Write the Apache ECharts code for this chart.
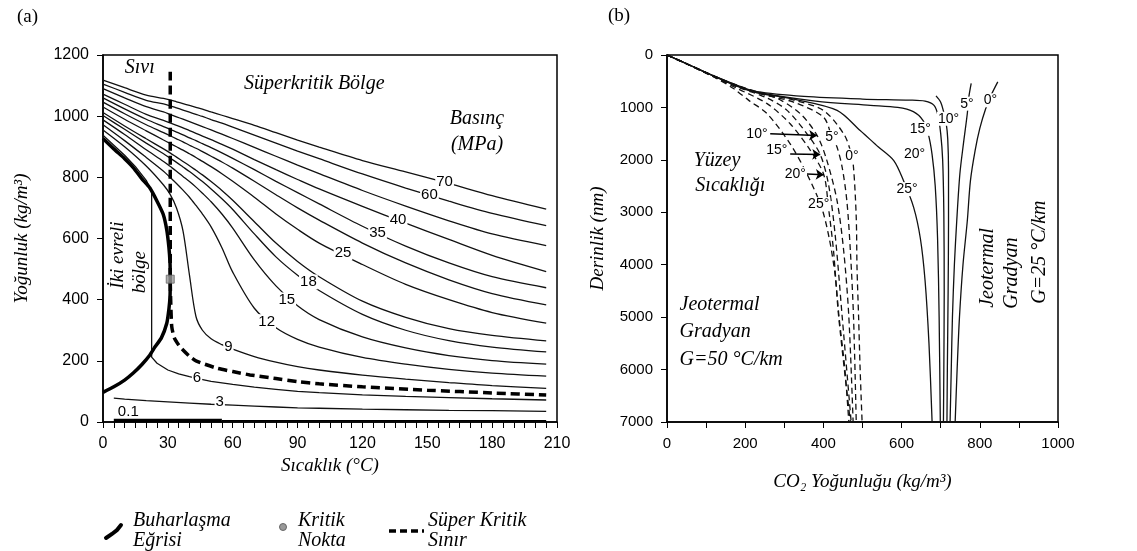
<!DOCTYPE html>
<html><head><meta charset="utf-8">
<script src="https://cdn.jsdelivr.net/npm/echarts/dist/echarts.min.js"></script>
<style>html,body{margin:0;padding:0;background:#fff}#c{width:1137px;height:551px}</style>
</head><body><div id="c"></div>
<script>
// ---------- Panel (a): CO2 density vs temperature, isobars (MPa) ----------
const TEMPS = [0,10,20,28,31,34,37,40,43,46,50,55,60,70,80,90,100,120,140,160,180,205];
const P9  = [955,900,837,775,745,700,625,480,345,300,272,253,238,214,196,181,170,153,140,129,119,110];
const P12 = [972,920,865,820,800,780,758,735,708,680,638,570,490,372,308,270,245,211,189,172,160,150];
const P15 = [988,940,890,852,836,820,803,786,768,748,720,680,634,530,445,380,335,278,242,217,201,189];
const P18 = [1002,957,912,877,863,849,834,819,803,786,762,730,695,615,540,480,430,352,300,266,245,229];
const P20 = [1012,968,926,893,880,866,852,838,823,808,786,757,725,655,585,525,475,395,342,305,283,265];
const P25 = [1030,990,952,922,911,900,889,877,865,852,835,812,787,735,680,630,585,515,450,400,358,323];
const P30 = [1046,1008,972,946,936,926,916,905,895,884,869,850,830,787,743,700,660,585,520,465,420,383];
const P35 = [1060,1024,990,966,957,948,939,929,920,910,897,880,862,825,787,750,713,640,575,520,475,439];
const P40 = [1072,1039,1006,986,978,970,962,953,944,935,923,908,892,858,825,793,762,705,650,597,545,492];
const P50 = [1090,1060,1031,1014,1006,998,990,982,974,966,955,941,927,898,869,840,812,757,706,658,615,577];
const P60 = [1105,1078,1052,1040,1034,1027,1020,1013,1006,999,989,977,964,938,912,886,861,811,765,722,682,642];
const P70 = [1118,1093,1069,1058,1053,1047,1041,1035,1029,1023,1014,1003,992,970,946,922,899,855,818,780,740,696];
const P6  = [[0,938],[5,905],[10,872],[15,835],[20,790],[22.5,755],[22.5,212],[25,192],[30,170],[35,157],[40,148],[45,140],[50,133],[60,123],[70,114],[80,107],[90,100],[100,96],[120,89],[140,84],[160,80],[180,76],[205,72]];
const P3  = [[5,78],[10,75],[20,70],[30,66],[40,62],[50,58],[60,55],[70,52],[80,49],[90,46],[100,45],[120,42],[140,40],[160,38],[180,37],[205,35]];
const P01_THICK = [[5,5],[55,5]];
const P01_THIN  = [[55,4],[205,4]];
const SAT_CURVE = [[0,927],[5,893],[10,861],[14,832],[18,795],[21.7,765],[25,722],[27.8,680],[29.5,628],[30.5,570],[31,520],[31.1,467],[31,410],[30.5,370],[29.5,323],[27,275],[24,245],[21.7,219],[18,188],[14,160],[10,137],[5,115],[0,97]];
const SC_BOUNDARY = [[31.1,1145],[31.1,467],[31.3,400],[31.8,312],[33,275],[35.6,246],[40,215],[43,200],[52.6,176],[60,165],[68,154],[80,142],[90,132],[100,125],[120,115],[150,104],[180,95],[205,88]];
const CRITICAL = [[31.1,467]];
const ISO_LABELS = [[158,786,'70'],[151,742,'60'],[136.5,660,'40'],[127,618,'35'],[111,553,'25'],[95,458,'18'],[85,399,'15'],[75.7,328,'12'],[58,245,'9'],[43.5,144,'6'],[54,66,'3']];
const ISO_LABEL_01 = [[11.7,34,'0.1']];
const A_TEXTS = [[17,1158,'Sıvı'],[173,990,'Basınç'],[173,905,'(MPa)']];
const A_TEXT_LEFT = [[65,1106,'Süperkritik Bölge']];
const A_ROT = [[7,546,'İki evreli'],[17,490,'bölge']];

// ---------- Panel (b): CO2 density vs depth ----------
const G25_0  = [[846,512],[830,750],[815,1024],[800,1400],[788,1823],[776,2400],[768,3167],[757,4000],[748,5000],[742,6000],[737,7000]];
const G25_5  = [[778,540],[772,800],[768,1120],[758,1700],[749,2271],[741,3167],[735,4000],[730,5000],[727,6000],[724,7000]];
const G25_10 = [[688,780],[700,900],[708,1100],[714,1300],[718,1600],[720,2200],[720,3200],[719,4500],[717,6000],[716,7000]];
const G25_15 = [[0,0],[60,200],[120,400],[180,580],[230,700],[350,790],[500,840],[620,860],[660,880],[683,960],[693,1150],[700,1500],[705,2000],[708,3000],[709,4500],[708,6000],[707,7000]];
const G25_20 = [[0,0],[60,200],[120,400],[180,590],[230,710],[380,880],[520,960],[590,1000],[630,1080],[655,1250],[668,1500],[678,1900],[686,2500],[692,3500],[696,5000],[699,7000]];
const G25_25 = [[0,0],[60,200],[120,405],[180,600],[230,720],[330,850],[435,1056],[494,1440],[540,1750],[580,2015],[605,2400],[631,2911],[648,3500],[660,4300],[670,5500],[678,7000]];
const G50_0  = [[0,0],[60,200],[120,400],[180,580],[250,740],[324,860],[400,1056],[452,1504],[470,1850],[477,2143],[484,3100],[486,4063],[490,4987],[494,6006],[499,7000]];
const G50_5  = [[0,0],[60,200],[120,400],[180,590],[250,760],[324,900],[400,1184],[422,1568],[435,1760],[448,2143],[460,2783],[469,3743],[477,4987],[484,7000]];
const G50_10 = [[0,0],[60,200],[120,410],[180,600],[250,760],[281,820],[341,1120],[384,1536],[409,2015],[435,2783],[452,3743],[465,4987],[476,7000]];
const G50_15 = [[0,0],[60,200],[120,410],[180,610],[256,820],[307,1056],[358,1504],[392,1900],[413,2463],[430,3423],[448,4987],[471,7000]];
const G50_20 = [[0,0],[60,205],[120,420],[180,640],[256,928],[315,1312],[367,1823],[401,2284],[413,2911],[426,3743],[439,4987],[469,7000]];
const G50_25 = [[0,0],[60,205],[120,420],[170,640],[210,870],[256,1120],[315,1695],[358,2271],[395,2900],[415,3500],[430,4200],[440,5000],[455,6000],[465,7000]];
const B_LABELS = [[230,1504,'10°'],[281,1823,'15°'],[328,2271,'20°'],[388,2847,'25°'],[422,1568,'5°'],[473,1920,'0°'],
                  [614,2559,'25°'],[633,1887,'20°'],[648,1408,'15°'],[720,1216,'10°'],[767,928,'5°'],[827,864,'0°']];
const B_ARROWS = [[[264,1504],[384,1536]],[[315,1887],[392,1900]],[[358,2271],[401,2284]]];
const B_TEXTS = [[128,2015,'Yüzey'],[162,2500,'Sıcaklığı']];
const B_TEXT_LEFT = [[31,4770,'Jeotermal'],[31,5280,'Gradyan'],[31,5815,'G=50 °C/km']];
const B_ROT = [[821,4060,'Jeotermal'],[882,4160,'Gradyan'],[954,3760,'G=25 °C/km']];

// ---------- build ----------
const SERIF = '"Liberation Serif","Times New Roman",serif';
const SANS = '"Liberation Sans",Arial,sans-serif';
const chart = echarts.init(document.getElementById('c'), null, {renderer:'canvas'});

function zip(xs, ys){ return xs.map((x,i)=>[x, ys[i]]); }
function line(data, ax, opt){
  return Object.assign({type:'line', xAxisIndex:ax, yAxisIndex:ax, data:data, showSymbol:false, symbol:'none',
    smooth:0.3, silent:true, z:3,
    lineStyle:{color:'#111', width:1.3}}, opt||{});
}
function textScatter(data, ax, style, extra){
  return Object.assign({type:'scatter', xAxisIndex:ax, yAxisIndex:ax, data:data, symbolSize:1, silent:true, z:10,
    itemStyle:{color:'rgba(0,0,0,0)'},
    label:Object.assign({show:true, position:'inside', formatter:p=>p.data[2], color:'#000', opacity:1}, style)}, extra||{});
}

const series = [];
[P9,P12,P15,P18,P20,P25,P30,P35,P40,P50,P60,P70].forEach(arr=>series.push(line(zip(TEMPS,arr),0)));
series.push(line(P6,0,{smooth:false}));
series.push(line(P3,0,{smooth:false}));
series.push(line(P01_THICK,0,{smooth:false, lineStyle:{color:'#000', width:3.5}}));
series.push(line(P01_THIN,0,{smooth:false, lineStyle:{color:'#000', width:1.5}}));
series.push(line(SAT_CURVE,0,{smooth:0.2, lineStyle:{color:'#000', width:3.5}, z:4}));
series.push(line(SC_BOUNDARY,0,{smooth:0.2, lineStyle:{color:'#000', width:3.5, type:[9,5]}, z:4}));
series.push({type:'scatter', xAxisIndex:0, yAxisIndex:0, data:CRITICAL, symbol:'rect', symbolSize:8, z:6, silent:true,
  itemStyle:{color:'#9a9a9a', borderColor:'#666', borderWidth:1}});
series.push(textScatter(ISO_LABELS,0,{fontFamily:SANS, fontSize:15, backgroundColor:'#fff', padding:[0,1]}));
series.push(textScatter(ISO_LABEL_01,0,{fontFamily:SANS, fontSize:15}));
series.push(textScatter(A_TEXTS,0,{fontFamily:SERIF, fontStyle:'italic', fontSize:20}));
series.push(textScatter(A_TEXT_LEFT,0,{fontFamily:SERIF, fontStyle:'italic', fontSize:20, position:'right', distance:0}));
series.push(textScatter(A_ROT,0,{fontFamily:SERIF, fontStyle:'italic', fontSize:19, rotate:90}));

[G25_0,G25_5,G25_10,G25_15,G25_20,G25_25].forEach(arr=>series.push(line(arr,1,{smooth:0.3})));
[G50_0,G50_5,G50_10,G50_15,G50_20,G50_25].forEach(arr=>series.push(line(arr,1,{smooth:0.3, lineStyle:{color:'#111', width:1.3, type:[6,4]}})));
series.push({type:'lines', coordinateSystem:'cartesian2d', xAxisIndex:1, yAxisIndex:1, silent:true, z:8,
  symbol:['none','arrow'], symbolSize:8, lineStyle:{color:'#000', width:1.5, opacity:1},
  data:B_ARROWS.map(c=>({coords:c}))});
series.push(textScatter(B_LABELS,1,{fontFamily:SANS, fontSize:14, backgroundColor:'#fff', padding:[0,1]}));
series.push(textScatter(B_TEXTS,1,{fontFamily:SERIF, fontStyle:'italic', fontSize:20}));
series.push(textScatter(B_TEXT_LEFT,1,{fontFamily:SERIF, fontStyle:'italic', fontSize:20, position:'right', distance:0}));
series.push(textScatter(B_ROT,1,{fontFamily:SERIF, fontStyle:'italic', fontSize:20, rotate:90}));

function axisCommon(fs){
  return {axisLine:{show:true, onZero:false, lineStyle:{color:'#000', width:1.5}},
    axisTick:{show:true, inside:false, length:6, lineStyle:{color:'#000', width:1}},
    axisLabel:{color:'#000', fontFamily:SANS, fontSize:fs, margin:14, formatter:v=>String(v)},
    splitLine:{show:false}};
}
const nameStyle = {fontFamily:SERIF, fontStyle:'italic', fontSize:19, color:'#000'};

const option = {
  animation:false,
  backgroundColor:'#fff',
  grid:[
    {left:103, top:55, width:454, height:367, show:true, borderColor:'#000', borderWidth:1.5, backgroundColor:'transparent'},
    {left:667, top:55, width:391, height:367, show:true, borderColor:'#000', borderWidth:1.5, backgroundColor:'transparent'}
  ],
  xAxis:[
    Object.assign(axisCommon(16), {gridIndex:0, type:'value', min:0, max:210, interval:30,
      minorTick:{show:true, splitNumber:6, length:6, lineStyle:{color:'#000', width:1}},
      name:'Sıcaklık (°C)', nameLocation:'middle', nameGap:32, nameTextStyle:nameStyle}),
    Object.assign(axisCommon(15), {gridIndex:1, type:'value', min:0, max:1000, interval:200,
      minorTick:{show:true, splitNumber:2, length:6, lineStyle:{color:'#000', width:1}},
      name:'CO₂ Yoğunluğu (kg/m³)', nameLocation:'middle', nameGap:50, nameTextStyle:nameStyle})
  ],
  yAxis:[
    Object.assign(axisCommon(16), {gridIndex:0, type:'value', min:0, max:1200, interval:200,
      name:'Yoğunluk (kg/m³)', nameLocation:'middle', nameGap:72, nameRotate:90, nameTextStyle:nameStyle}),
    Object.assign(axisCommon(15), {gridIndex:1, type:'value', min:0, max:7000, interval:1000, inverse:true,
      name:'Derinlik (nm)', nameLocation:'middle', nameGap:60, nameRotate:90, nameTextStyle:nameStyle})
  ],
  series:series,
  graphic:[
    {type:'text', left:17, top:8, style:{text:'(a)', font:'19px '+SERIF, fill:'#000'}},
    {type:'text', left:608, top:7, style:{text:'(b)', font:'19px '+SERIF, fill:'#000'}},
    {type:'polyline', shape:{points:[[106,538],[112,534],[117,530],[121,525]]}, style:{stroke:'#000', lineWidth:4, fill:null, lineCap:'round'}},
    {type:'text', left:133, top:511, style:{text:'Buharlaşma', font:'italic 20px '+SERIF, fill:'#000'}},
    {type:'text', left:133, top:531, style:{text:'Eğrisi', font:'italic 20px '+SERIF, fill:'#000'}},
    {type:'circle', shape:{cx:283, cy:527, r:3.5}, style:{fill:'#999', stroke:'#666', lineWidth:1}},
    {type:'text', left:298, top:511, style:{text:'Kritik', font:'italic 20px '+SERIF, fill:'#000'}},
    {type:'text', left:298, top:531, style:{text:'Nokta', font:'italic 20px '+SERIF, fill:'#000'}},
    {type:'polyline', shape:{points:[[389,531],[424,531]]}, style:{stroke:'#000', lineWidth:3.5, fill:null, lineDash:[7,4]}},
    {type:'text', left:428, top:511, style:{text:'Süper Kritik', font:'italic 20px '+SERIF, fill:'#000'}},
    {type:'text', left:428, top:531, style:{text:'Sınır', font:'italic 20px '+SERIF, fill:'#000'}}
  ]
};
chart.setOption(option);
</script></body></html>
